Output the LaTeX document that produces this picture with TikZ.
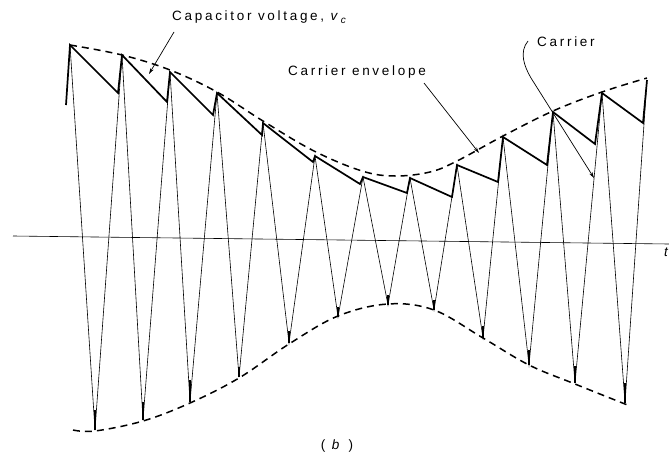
\documentclass[tikz,border=0pt]{standalone}
\usepackage{fontspec}
\setmainfont{Liberation Sans}[LetterSpace=20]
\usetikzlibrary{arrows.meta}
\begin{document}
\begin{tikzpicture}[x=1pt,y=-1pt,
  lbl/.style={font=\fontsize{13.5}{15}\selectfont, inner sep=0pt},
  capv/.style={line width=1.7pt, line join=miter},
  carr/.style={line width=0.6pt},
  env/.style={line width=1.5pt, dash pattern=on 7pt off 5pt},
  lead/.style={line width=0.7pt, -{Stealth[length=6pt,width=3.5pt]}},
  stub/.style={line width=1.5pt}
]
\useasboundingbox (0,0) rectangle (669,455);
% peaks
\coordinate (p1) at (70,45);
\coordinate (p2) at (122,55);
\coordinate (p3) at (170,72);
\coordinate (p4) at (217,93);
\coordinate (p5) at (263,123);
\coordinate (p6) at (315,156);
\coordinate (p7) at (363,177);
\coordinate (p8) at (410,178);
\coordinate (p9) at (457,165);
\coordinate (p10) at (503,137);
\coordinate (p11) at (553,112);
\coordinate (p12) at (602,93);
\coordinate (p13) at (647,80);
% decay ends
\coordinate (d1) at (118,93);
\coordinate (d2) at (167,102);
\coordinate (d3) at (213,115);
\coordinate (d4) at (262,135);
\coordinate (d5) at (313,162);
\coordinate (d6) at (360,184);
\coordinate (d7) at (407,193);
\coordinate (d8) at (452,197);
\coordinate (d9) at (498,182);
\coordinate (d10) at (547,165);
\coordinate (d11) at (595,144);
\coordinate (d12) at (643,123);
% troughs
\coordinate (q1) at (95,430);
\coordinate (q2) at (143,420);
\coordinate (q3) at (190,402);
\coordinate (q4) at (239,377);
\coordinate (q5) at (289,343);
\coordinate (q6) at (338,317);
\coordinate (q7) at (388,305);
\coordinate (q8) at (434,310);
\coordinate (q9) at (483,338);
\coordinate (q10) at (529,365);
\coordinate (q11) at (575,383);
\coordinate (q12) at (625,403);
% axis
\coordinate (ax1) at (13,236);
\coordinate (ax2) at (669,244);
\draw[line width=0.6pt] (ax1) -- (ax2);
\node[lbl, anchor=west] (t) at (664,252) {\textit{t}};
% carrier
\draw[carr] (p1) \foreach \i [evaluate=\i as \j using int(\i+1)] in {1,...,12} { -- (q\i) -- (p\j) };
% trough stubs
\foreach \i/\h in {1/20,2/18,3/22,4/10,5/12,6/10,7/10,8/10,9/12,10/15,11/17,12/20}
  \draw[stub] (q\i) -- ++(0,-\h);
% capacitor voltage
\coordinate (c0) at (66,105);
\draw[capv] (c0) -- (p1) \foreach \i [evaluate=\i as \j using int(\i+1)] in {1,...,12} { -- (d\i) -- (p\j) };
% envelopes
\draw[env] plot[smooth, tension=0.6] coordinates {(70,45) (122,55) (170,70) (217,92) (263,121) (314,151) (362,171) (395,176) (430,172) (457,161) (503,136) (553,111) (602,92) (647,78)};
\draw[env] plot[smooth, tension=0.6] coordinates {(73,430) (95,431) (143,421) (190,403) (239,378) (289,344) (338,316) (388,304) (434,310) (483,338) (529,365) (575,384) (630,406)};
% labels
\node[lbl, anchor=west] (capl) at (172,17) {Capacitor voltage, \textit{v}{\fontsize{10}{10}\selectfont\raisebox{-3pt}{\textit{c}}}};
\node[lbl, anchor=west] (envl) at (288,72) {Carrier envelope};
\node[lbl, anchor=west] (carl) at (537,42) {Carrier};
\node[lbl] (bl) at (337,446) {( \textit{b} )};
% leaders
\coordinate (capt) at (149,74);
\draw[lead] (174,32) -- (capt);
\coordinate (envt) at (479,153);
\draw[lead] (424,83) -- (envt);
\coordinate (cart) at (594,178);
\draw[lead] (528,41) .. controls (519,52) and (524,66) .. (531,78) -- (cart);
\end{tikzpicture}
\end{document}
